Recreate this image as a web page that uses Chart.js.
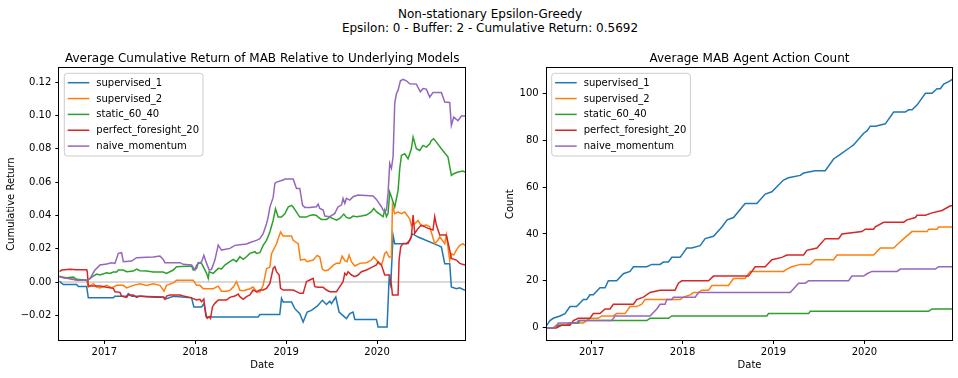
<!DOCTYPE html>
<html><head><meta charset="utf-8">
<script src="https://cdn.jsdelivr.net/npm/chart.js@4.4.0/dist/chart.umd.min.js"></script>
<style>
html,body{margin:0;padding:0;background:#fff;}
body{width:958px;height:378px;position:relative;overflow:hidden;font-family:"DejaVu Sans";}
#sup{position:absolute;left:22px;top:7px;width:936px;text-align:center;font-size:12px;line-height:14px;color:#000;}
canvas{position:absolute;top:0;}
#c1{left:0;width:479px;height:378px;}
#c2{left:479px;width:479px;height:378px;}
</style></head><body>
<div id="sup">Non-stationary Epsilon-Greedy<br>Epsilon: 0 - Buffer: 2 - Cumulative Return: 0.5692</div>
<canvas id="c1" width="479" height="378"></canvas>
<canvas id="c2" width="479" height="378"></canvas>
<script>
// ---------- data ----------
const seriesNames = ['supervised_1','supervised_2','static_60_40','perfect_foresight_20','naive_momentum'];
const seriesColors = ['#1f77b4','#ff7f0e','#2ca02c','#d62728','#9467bd'];
const yearTicks = [2017, 2018, 2019, 2020];
const returnTicks = [-0.02, 0, 0.02, 0.04, 0.06, 0.08, 0.10, 0.12];
const countTicks = [0, 20, 40, 60, 80, 100];
const dateStart = 2016.505, dateEnd = 2020.967;

// Average cumulative return relative to underlying models: [decimal year, value]
const retSupervised1 = [[2016.505,0.0005],[2016.549,-0.0015],[2016.696,-0.0015],[2016.714,-0.0027],[2016.806,-0.0027],[2016.824,-0.0095],[2017.099,-0.0095],[2017.117,-0.0085],[2017.245,-0.0085],[2017.264,-0.007],[2017.3,-0.0085],[2017.392,-0.0085],[2017.648,-0.009],[2017.685,-0.0100],[2017.758,-0.0085],[2017.96,-0.0095],[2017.985,-0.015],[2018.07,-0.015],[2018.095,-0.013],[2018.125,-0.021],[2018.692,-0.021],[2018.711,-0.0195],[2018.93,-0.0195],[2018.949,-0.0098],[2018.967,-0.012],[2019.059,-0.012],[2019.095,-0.016],[2019.15,-0.019],[2019.187,-0.024],[2019.231,-0.018],[2019.278,-0.017],[2019.341,-0.0145],[2019.399,-0.011],[2019.443,-0.0135],[2019.48,-0.0115],[2019.498,-0.013],[2019.546,-0.009],[2019.582,-0.018],[2019.663,-0.022],[2019.7,-0.019],[2019.736,-0.018],[2019.755,-0.0225],[2019.993,-0.0225],[2020.011,-0.027],[2020.11,-0.027],[2020.132,0.002],[2020.15,-0.002],[2020.176,0.028],[2020.194,0.023],[2020.322,0.023],[2020.359,0.025],[2020.388,0.029],[2020.451,0.027],[2020.67,0.022],[2020.707,0.021],[2020.744,0.011],[2020.799,0.011],[2020.817,-0.003],[2020.872,-0.004],[2020.909,-0.0035],[2020.967,-0.005]];
const retSupervised2 = [[2016.505,0.003],[2016.696,0.0015],[2016.806,0.001],[2016.824,-0.003],[2016.879,-0.001],[2016.916,-0.003],[2016.952,-0.0035],[2017.026,-0.002],[2017.081,-0.0035],[2017.136,-0.002],[2017.209,-0.002],[2017.245,-0.0035],[2017.319,-0.002],[2017.392,-0.001],[2017.465,-0.002],[2017.538,-0.001],[2017.612,-0.002],[2017.656,-0.0055],[2017.685,-0.002],[2017.758,-0.0005],[2017.795,0.001],[2017.978,0.001],[2018.015,-0.002],[2018.051,-0.002],[2018.088,-0.004],[2018.198,-0.004],[2018.253,-0.0025],[2018.289,-0.0055],[2018.344,-0.0055],[2018.381,-0.005],[2018.418,-0.003],[2018.454,0.0002],[2018.491,-0.005],[2018.528,-0.0052],[2018.601,-0.004],[2018.637,-0.003],[2018.674,-0.006],[2018.711,-0.006],[2018.747,-0.002],[2018.784,0.008],[2018.821,0.009],[2018.839,0.017],[2018.894,0.023],[2018.938,0.030],[2018.967,0.0276],[2019.059,0.0276],[2019.077,0.025],[2019.132,0.023],[2019.158,0.0132],[2019.205,0.0136],[2019.231,0.0122],[2019.297,0.0132],[2019.341,0.016],[2019.37,0.015],[2019.399,0.0076],[2019.425,0.0068],[2019.462,0.0072],[2019.517,0.010],[2019.553,0.0112],[2019.59,0.0112],[2019.615,0.0156],[2019.645,0.0128],[2019.670,0.0122],[2019.692,0.0162],[2019.718,0.0122],[2019.755,0.0096],[2019.81,0.0112],[2019.883,0.0116],[2019.938,0.0132],[2019.963,0.015],[2019.993,0.0132],[2020.022,0.011],[2020.048,0.0102],[2020.066,0.0132],[2020.084,0.0172],[2020.103,0.0182],[2020.132,0.015],[2020.158,0.015],[2020.169,0.046],[2020.194,0.041],[2020.231,0.042],[2020.268,0.041],[2020.304,0.042],[2020.359,0.038],[2020.377,0.034],[2020.414,0.035],[2020.451,0.037],[2020.487,0.0336],[2020.542,0.0342],[2020.579,0.0332],[2020.634,0.023],[2020.67,0.0252],[2020.689,0.0272],[2020.744,0.023],[2020.762,0.0282],[2020.799,0.013],[2020.817,0.017],[2020.843,0.0162],[2020.872,0.0192],[2020.909,0.022],[2020.945,0.023],[2020.967,0.022]];
const retStatic6040 = [[2016.505,0.0032],[2016.586,0.0026],[2016.659,0.003],[2016.696,0.0016],[2016.806,0.001],[2016.842,0.002],[2016.879,0.0036],[2016.916,0.0048],[2016.952,0.0042],[2017.026,0.0056],[2017.062,0.0052],[2017.099,0.006],[2017.136,0.006],[2017.154,0.0072],[2017.209,0.0072],[2017.245,0.0062],[2017.319,0.0066],[2017.355,0.0078],[2017.392,0.0068],[2017.465,0.0066],[2017.538,0.006],[2017.648,0.006],[2017.685,0.0052],[2017.758,0.0072],[2017.795,0.0092],[2017.96,0.0096],[2017.978,0.0072],[2018.015,0.0082],[2018.033,0.0116],[2018.07,0.0112],[2018.088,0.0092],[2018.125,0.0052],[2018.143,0.0022],[2018.154,0.0062],[2018.198,0.0052],[2018.253,0.0082],[2018.289,0.0078],[2018.326,0.0102],[2018.381,0.0122],[2018.418,0.0136],[2018.454,0.0122],[2018.491,0.0152],[2018.528,0.0136],[2018.564,0.0152],[2018.601,0.0172],[2018.656,0.0182],[2018.674,0.0172],[2018.711,0.0176],[2018.747,0.022],[2018.784,0.025],[2018.821,0.030],[2018.857,0.037],[2018.883,0.044],[2018.912,0.039],[2018.949,0.039],[2018.985,0.041],[2019.022,0.045],[2019.059,0.046],[2019.077,0.045],[2019.114,0.042],[2019.15,0.039],[2019.223,0.039],[2019.26,0.040],[2019.297,0.0404],[2019.333,0.040],[2019.352,0.039],[2019.388,0.0376],[2019.443,0.0376],[2019.48,0.039],[2019.535,0.0376],[2019.553,0.0372],[2019.59,0.0382],[2019.634,0.0408],[2019.663,0.0388],[2019.7,0.0382],[2019.736,0.0396],[2019.773,0.0392],[2019.828,0.0396],[2019.883,0.0402],[2019.938,0.0422],[2019.963,0.0442],[2019.993,0.0422],[2020.029,0.0408],[2020.066,0.0392],[2020.084,0.0432],[2020.103,0.0392],[2020.121,0.0412],[2020.139,0.054],[2020.158,0.051],[2020.176,0.048],[2020.194,0.045],[2020.231,0.055],[2020.249,0.068],[2020.268,0.076],[2020.304,0.077],[2020.341,0.074],[2020.377,0.080],[2020.396,0.087],[2020.432,0.080],[2020.469,0.079],[2020.505,0.082],[2020.542,0.081],[2020.579,0.083],[2020.597,0.085],[2020.623,0.086],[2020.652,0.084],[2020.707,0.080],[2020.780,0.075],[2020.817,0.064],[2020.843,0.065],[2020.89,0.066],[2020.945,0.0666],[2020.967,0.066]];
const retPerfectForesight20 = [[2016.505,0.0062],[2016.531,0.0072],[2016.623,0.0076],[2016.696,0.0074],[2016.806,0.0074],[2016.813,0.0062],[2016.824,-0.0024],[2016.952,-0.0024],[2017.026,-0.0032],[2017.099,-0.0038],[2017.117,-0.0058],[2017.172,-0.0062],[2017.19,-0.0084],[2017.245,-0.0092],[2017.264,-0.0078],[2017.319,-0.0078],[2017.355,-0.0092],[2017.392,-0.0084],[2017.465,-0.0088],[2017.575,-0.0092],[2017.648,-0.0092],[2017.667,-0.0104],[2017.685,-0.0084],[2017.722,-0.0078],[2017.832,-0.0078],[2017.868,-0.0084],[2017.941,-0.0092],[2018.015,-0.0108],[2018.051,-0.0104],[2018.07,-0.0118],[2018.095,-0.0102],[2018.117,-0.0204],[2018.132,-0.0218],[2018.154,-0.0208],[2018.168,-0.0218],[2018.19,-0.0148],[2018.216,-0.0128],[2018.253,-0.0108],[2018.344,-0.0108],[2018.381,-0.0092],[2018.436,-0.0084],[2018.473,-0.0072],[2018.491,-0.0088],[2018.528,-0.0104],[2018.564,-0.0088],[2018.601,-0.0078],[2018.637,-0.0048],[2018.674,-0.0058],[2018.711,-0.0048],[2018.747,-0.0048],[2018.784,-0.0038],[2018.821,-0.0008],[2018.857,0.0082],[2018.876,0.0092],[2018.894,0.0062],[2018.923,0.0042],[2018.938,-0.0038],[2018.967,-0.0048],[2019.077,-0.0048],[2019.114,-0.0058],[2019.15,-0.0068],[2019.187,-0.0068],[2019.223,0.0002],[2019.26,0.0012],[2019.297,0.0022],[2019.315,-0.0028],[2019.352,-0.0032],[2019.407,-0.0032],[2019.443,-0.0048],[2019.48,-0.0058],[2019.553,-0.0058],[2019.59,-0.0028],[2019.626,0.0002],[2019.645,0.0052],[2019.663,0.0042],[2019.681,0.0062],[2019.718,0.0042],[2019.755,0.0032],[2019.791,0.0042],[2019.828,0.0062],[2019.883,0.0072],[2019.919,0.0082],[2019.956,0.0092],[2019.993,0.0102],[2020.011,0.0122],[2020.048,0.0102],[2020.066,0.0072],[2020.084,0.0042],[2020.139,0.0042],[2020.158,-0.0018],[2020.169,-0.0078],[2020.231,-0.0078],[2020.242,0.0132],[2020.26,0.0212],[2020.286,0.0232],[2020.341,0.0232],[2020.377,0.0272],[2020.396,0.0402],[2020.414,0.0292],[2020.451,0.0322],[2020.487,0.0342],[2020.56,0.0322],[2020.615,0.0312],[2020.634,0.0392],[2020.652,0.0342],[2020.689,0.0282],[2020.762,0.0282],[2020.799,0.0192],[2020.817,0.0142],[2020.872,0.0132],[2020.909,0.0112],[2020.967,0.0102]];
const retNaiveMomentum = [[2016.505,0.0036],[2016.549,0.0026],[2016.623,0.002],[2016.696,0.001],[2016.806,0.001],[2016.842,0.002],[2016.897,0.0072],[2016.916,0.0082],[2016.952,0.0102],[2017.026,0.0108],[2017.081,0.0116],[2017.117,0.0112],[2017.154,0.0172],[2017.19,0.0176],[2017.209,0.0122],[2017.3,0.0126],[2017.355,0.0146],[2017.465,0.0148],[2017.538,0.015],[2017.612,0.0156],[2017.648,0.0136],[2017.667,0.0116],[2017.832,0.0116],[2017.868,0.0106],[2017.96,0.0102],[2017.996,0.0072],[2018.015,0.0102],[2018.033,0.0112],[2018.07,0.0122],[2018.095,0.016],[2018.125,0.0112],[2018.154,0.0072],[2018.179,0.0076],[2018.216,0.0132],[2018.253,0.0222],[2018.289,0.0192],[2018.381,0.0202],[2018.436,0.022],[2018.491,0.0224],[2018.564,0.0228],[2018.619,0.024],[2018.674,0.025],[2018.711,0.026],[2018.747,0.029],[2018.784,0.035],[2018.802,0.039],[2018.821,0.045],[2018.857,0.0508],[2018.876,0.0592],[2018.894,0.060],[2018.967,0.0612],[2018.985,0.0618],[2019.077,0.0618],[2019.114,0.0562],[2019.15,0.0562],[2019.18,0.0462],[2019.205,0.0448],[2019.26,0.0448],[2019.333,0.0452],[2019.352,0.0468],[2019.37,0.0442],[2019.407,0.0432],[2019.425,0.0396],[2019.48,0.0392],[2019.535,0.0412],[2019.571,0.0452],[2019.608,0.0462],[2019.626,0.0502],[2019.645,0.0472],[2019.663,0.0502],[2019.7,0.0492],[2019.736,0.0512],[2019.791,0.0522],[2019.956,0.0516],[2019.993,0.0496],[2020.048,0.0452],[2020.066,0.0432],[2020.084,0.0422],[2020.103,0.0432],[2020.121,0.0532],[2020.139,0.0712],[2020.158,0.0682],[2020.176,0.0752],[2020.194,0.1072],[2020.213,0.1132],[2020.231,0.1152],[2020.257,0.1208],[2020.286,0.1217],[2020.322,0.1208],[2020.359,0.119],[2020.432,0.1188],[2020.476,0.1142],[2020.505,0.1162],[2020.542,0.1158],[2020.579,0.111],[2020.615,0.1138],[2020.707,0.1138],[2020.744,0.108],[2020.799,0.1078],[2020.817,0.094],[2020.843,0.099],[2020.89,0.0968],[2020.927,0.0996],[2020.967,0.0996]];

// Average MAB agent action count: [decimal year, count]
const cntSupervised1 = [[2016.505,1],[2016.541,3],[2016.577,4],[2016.651,5],[2016.706,6],[2016.761,9],[2016.834,9],[2016.908,12],[2016.945,12],[2016.981,14],[2017.018,14],[2017.091,17],[2017.147,17],[2017.183,20],[2017.275,20],[2017.348,23],[2017.422,24],[2017.459,26],[2017.606,26],[2017.661,27],[2017.752,27],[2017.789,28],[2017.844,28],[2017.881,30],[2017.973,30],[2018.046,34],[2018.101,34],[2018.193,35],[2018.248,38],[2018.34,39],[2018.432,43],[2018.49,46],[2018.56,47],[2018.688,53],[2018.817,53],[2018.909,57],[2018.982,58],[2019.11,63],[2019.165,64],[2019.294,65],[2019.331,66],[2019.459,67],[2019.569,67],[2019.661,72],[2019.735,74],[2019.845,77],[2019.881,78],[2019.992,83],[2020.028,84],[2020.065,86],[2020.12,86],[2020.23,87],[2020.322,92],[2020.45,92],[2020.487,93],[2020.524,93],[2020.579,95],[2020.671,100],[2020.744,100],[2020.799,102],[2020.836,102],[2020.872,104],[2020.928,105],[2020.967,106]];
const cntSupervised2 = [[2016.505,0],[2016.577,0],[2016.614,1],[2016.724,1],[2016.743,2],[2016.908,2],[2016.945,3],[2016.981,4],[2017.073,4],[2017.11,5],[2017.238,5],[2017.275,6],[2017.367,6],[2017.422,9],[2017.495,9],[2017.551,10],[2017.587,12],[2017.973,12],[2018.009,13],[2018.083,14],[2018.12,15],[2018.175,15],[2018.211,16],[2018.285,16],[2018.322,18],[2018.505,18],[2018.56,21],[2018.688,21],[2018.743,24],[2019.11,24],[2019.147,25],[2019.202,26],[2019.294,27],[2019.404,27],[2019.459,29],[2019.661,29],[2019.698,31],[2020.102,31],[2020.175,34],[2020.322,34],[2020.377,36],[2020.432,38],[2020.524,41],[2020.689,41],[2020.707,42],[2020.799,42],[2020.817,43],[2020.967,43]];
const cntStatic6040 = [[2016.505,0],[2016.614,0],[2016.633,1],[2016.743,1],[2016.761,2],[2016.853,2],[2016.871,3],[2017.606,3],[2017.642,4],[2017.844,4],[2017.881,5],[2018.927,5],[2018.945,6],[2019.386,6],[2019.404,7],[2020.707,7],[2020.744,8],[2020.967,8]];
const cntPerfectForesight20 = [[2016.505,0],[2016.614,0],[2016.669,1],[2016.761,1],[2016.798,3],[2016.853,4],[2016.981,4],[2017.018,6],[2017.091,6],[2017.147,8],[2017.202,8],[2017.238,10],[2017.459,10],[2017.495,12],[2017.569,13],[2017.642,15],[2017.752,16],[2017.917,16],[2017.954,19],[2017.991,20],[2018.285,20],[2018.34,22],[2018.725,22],[2018.798,26],[2018.909,26],[2018.982,29],[2019.092,30],[2019.147,31],[2019.331,31],[2019.367,33],[2019.478,34],[2019.569,38],[2019.716,38],[2019.753,40],[2019.973,41],[2020.01,42],[2020.102,42],[2020.12,43],[2020.212,45],[2020.432,45],[2020.469,46],[2020.561,47],[2020.579,48],[2020.671,48],[2020.744,49],[2020.854,50],[2020.946,52],[2020.967,52]];
const cntNaiveMomentum = [[2016.505,0],[2016.596,0],[2016.633,2],[2016.834,2],[2016.853,3],[2017.22,3],[2017.257,5],[2017.642,5],[2017.716,8],[2017.752,10],[2017.807,10],[2017.826,12],[2017.881,12],[2017.899,13],[2018.138,13],[2018.175,15],[2019.184,15],[2019.276,19],[2019.349,19],[2019.386,20],[2019.826,20],[2019.863,22],[2019.992,22],[2020.028,23],[2020.083,24],[2020.359,24],[2020.395,25],[2020.781,25],[2020.817,26],[2020.967,26]];
const zeroLine = [[dateStart,0],[dateEnd,0]];

// ---------- rendering ----------
Chart.defaults.font.family = '"DejaVu Sans"';
Chart.defaults.font.size = 10;
Chart.defaults.color = '#000';

const framePlugin = {
  id: 'frame',
  afterDraw(chart, args, opts) {
    const ctx = chart.ctx;
    const a = chart.chartArea;
    const l = Math.round(a.left) - 0.5, t = Math.round(a.top) - 0.5;
    const r = Math.round(a.right) + 0.5, b = Math.round(a.bottom) + 0.5;
    ctx.save();
    ctx.strokeStyle = '#000'; ctx.lineWidth = 1;
    ctx.strokeRect(l, t, r - l, b - t);
    // subplot title
    ctx.fillStyle = '#000';
    ctx.font = '12px "DejaVu Sans"';
    ctx.textAlign = 'center'; ctx.textBaseline = 'alphabetic';
    ctx.fillText(opts.title, (a.left + a.right) / 2, a.top - 6);
    // legend
    ctx.font = '10px "DejaVu Sans"';
    const items = chart.data.datasets.filter(d => d.inLegend);
    let tw = 0;
    items.forEach(d => { tw = Math.max(tw, ctx.measureText(d.label).width); });
    const bx = a.left + 5, by = a.top + 5;
    const bw = 4 + 20 + 8 + tw + 4, bh = 82.7;
    ctx.beginPath();
    if (ctx.roundRect) ctx.roundRect(bx, by, bw, bh, 3); else ctx.rect(bx, by, bw, bh);
    ctx.fillStyle = 'rgba(255,255,255,0.8)';
    ctx.fill();
    ctx.strokeStyle = '#cccccc'; ctx.lineWidth = 1;
    ctx.stroke();
    ctx.textAlign = 'left'; ctx.textBaseline = 'middle';
    items.forEach((d, i) => {
      const cy = by + 9.4 + i * 15.85;
      ctx.strokeStyle = d.borderColor; ctx.lineWidth = 1.5;
      ctx.beginPath(); ctx.moveTo(bx + 3.4, cy); ctx.lineTo(bx + 25, cy); ctx.stroke();
      ctx.fillStyle = '#000';
      ctx.fillText(d.label, bx + 32, cy + 0.5);
    });
    ctx.restore();
  }
};

function buildDatasets(seriesData, withZero) {
  const ds = seriesData.map((pts, i) => ({
    label: seriesNames[i],
    data: pts.map(p => ({x: p[0], y: p[1]})),
    borderColor: seriesColors[i],
    backgroundColor: seriesColors[i],
    borderWidth: 1.5,
    pointRadius: 0,
    fill: false,
    tension: 0,
    order: 5 - i,
    inLegend: true
  }));
  if (withZero) {
    ds.push({
      label: 'zero', data: zeroLine.map(p => ({x: p[0], y: p[1]})),
      borderColor: '#cccccc', borderWidth: 1.5, pointRadius: 0, order: 10, inLegend: false
    });
  }
  return ds;
}

function makeChart(id, cfg) {
  return new Chart(document.getElementById(id), {
    type: 'line',
    data: { datasets: cfg.datasets },
    options: {
      responsive: false, animation: false,
      layout: { padding: cfg.padding },
      plugins: { legend: { display: false }, tooltip: { enabled: false }, title: { display: false },
                 frame: { title: cfg.title } },
      scales: {
        x: {
          type: 'linear', min: dateStart, max: dateEnd,
          afterFit: s => { s.height = 38; },
          afterBuildTicks: s => { s.ticks = yearTicks.map(v => ({ value: v })); },
          ticks: { autoSkip: false, maxRotation: 0, color: '#000', padding: 2, callback: v => String(v) },
          grid: { drawOnChartArea: false, drawTicks: true, tickLength: 4, tickColor: '#000' },
          border: { display: false },
          title: { display: true, text: 'Date', color: '#000', padding: { top: 0, bottom: 7 } }
        },
        y: {
          type: 'linear', min: cfg.yMin, max: cfg.yMax,
          afterFit: s => { s.width = cfg.yWidth; },
          afterBuildTicks: s => { s.ticks = cfg.yTicks.map(v => ({ value: v })); },
          ticks: { autoSkip: false, color: '#000', padding: 4, callback: cfg.yFmt },
          grid: { drawOnChartArea: false, drawTicks: true, tickLength: 4, tickColor: '#000' },
          border: { display: false },
          title: { display: true, text: cfg.yTitle, color: '#000', padding: { top: cfg.yTitlePad, bottom: 0 } }
        }
      }
    },
    plugins: [framePlugin]
  });
}

makeChart('c1', {
  datasets: buildDatasets([retSupervised1, retSupervised2, retStatic6040, retPerfectForesight20, retNaiveMomentum], true),
  padding: { left: 0, top: 68.3, right: 14, bottom: 0 },
  title: 'Average Cumulative Return of MAB Relative to Underlying Models',
  yMin: -0.0348, yMax: 0.1283, yWidth: 59.3, yTicks: returnTicks,
  yFmt: v => (v < -1e-9 ? '\u2212' : '') + Math.abs(v).toFixed(2),
  yTitle: 'Cumulative Return', yTitlePad: 5
});

makeChart('c2', {
  datasets: buildDatasets([cntSupervised1, cntSupervised2, cntStatic6040, cntPerfectForesight20, cntNaiveMomentum], false),
  padding: { left: 0, top: 68.3, right: 5.7, bottom: 0 },
  title: 'Average MAB Agent Action Count',
  yMin: -5.27, yMax: 110.7, yWidth: 67.7, yTicks: countTicks,
  yFmt: v => String(v),
  yTitle: 'Count', yTitlePad: 25
});
</script>
</body></html>
